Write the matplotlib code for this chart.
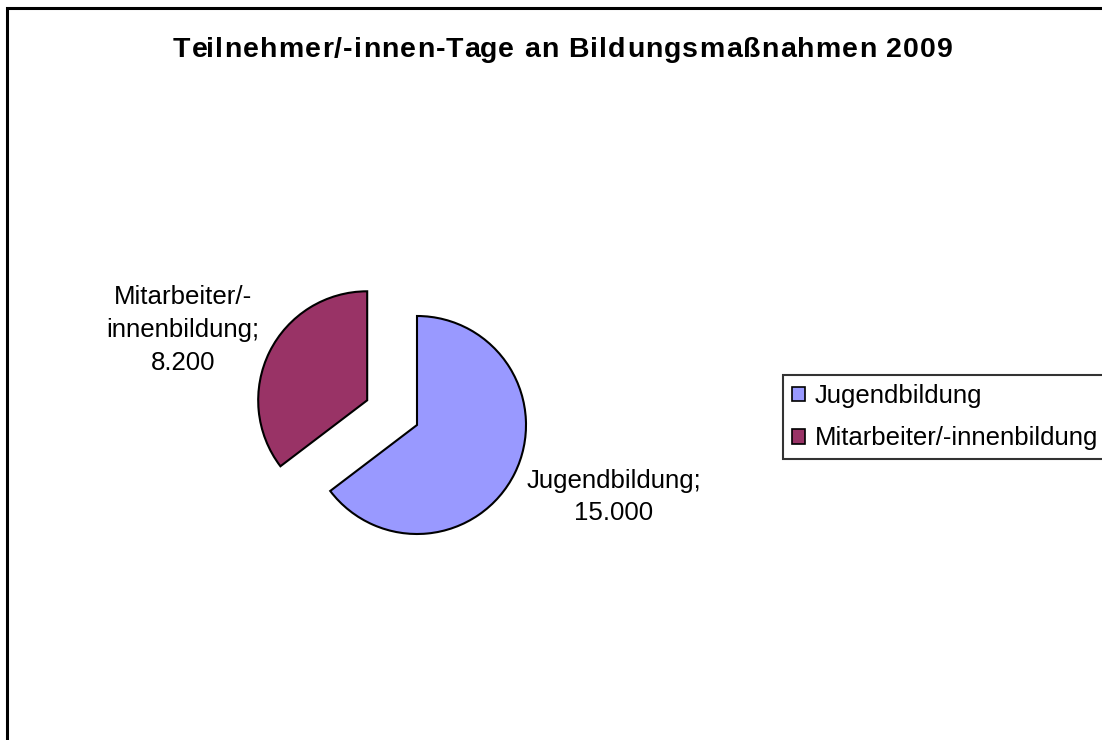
import matplotlib
matplotlib.use('Agg')
import matplotlib.pyplot as plt
from matplotlib.patches import Rectangle
from matplotlib.font_manager import FontProperties
from matplotlib.textpath import text_to_path

plt.rcParams['font.family'] = ['Liberation Sans', 'DejaVu Sans']

# Data
categories = ['Jugendbildung', 'Mitarbeiter/-innenbildung']
values = [15000, 8200]
label_texts = ['Jugendbildung;\n15.000', 'Mitarbeiter/-\ninnenbildung;\n8.200']
colors = ['#9999FF', '#993366']
explode = [0, 0.51]  # fraction of radius

TITLE = 'Teilnehmer/-innen-Tage an Bildungsmaßnahmen 2009'

W, H = 1102, 740
R = 109

fig = plt.figure(figsize=(W / 100, H / 100), dpi=100)
ax = fig.add_axes([0, 0, 1, 1])

# matplotlib's explode is in data units, so scale by radius
wedges, _ = ax.pie(values, colors=colors, explode=[e * R for e in explode],
                   startangle=90, counterclock=False, center=(417, 315),
                   radius=R, wedgeprops=dict(edgecolor='black', linewidth=1.5),
                   frame=True)
ax.set_xlim(0, W)
ax.set_ylim(0, H)
ax.set_aspect('equal')
ax.axis('off')

# Data labels
ax.text(614, 243, label_texts[0], ha='center', va='center', fontsize=18.6,
        linespacing=1.45)
ax.text(183, 410, label_texts[1], ha='center', va='center', fontsize=18.6,
        linespacing=1.5)

# Title, slightly letter-spaced like the Excel original
fp = FontProperties(family='Liberation Sans', weight='bold', size=20.5)
PX = 100 / 72  # points -> pixels
xw = text_to_path.get_text_width_height_descent('x', fp, ismath=False)[0]


def prefix_w(s):
    w = text_to_path.get_text_width_height_descent(s + 'x', fp, ismath=False)[0]
    return (w - xw) * PX


base_w = prefix_w(TITLE)
target_w = 780
track = max(0, (target_w - base_w) / (len(TITLE) - 1))
x0 = 563 - (base_w + track * (len(TITLE) - 1)) / 2
for i, ch in enumerate(TITLE):
    xp = x0 + prefix_w(TITLE[:i]) + i * track
    fig.text(xp / W, 1 - 57 / H, ch, ha='left', va='baseline',
             fontproperties=fp)

# Legend
leg = fig.legend(wedges, categories, loc='upper left',
                 bbox_to_anchor=(783 / W, 1 - 375 / H),
                 prop=dict(size=18.5), frameon=True, fancybox=False,
                 shadow=False, handlelength=0.5, handleheight=0.5,
                 handletextpad=0.4, borderpad=0.35, labelspacing=0.72,
                 borderaxespad=0)
leg.get_frame().set_edgecolor('black')
leg.get_frame().set_linewidth(1.5)
for h in leg.legend_handles:
    h.set_linewidth(1.2)

# Outer chart border
fig.patches.append(Rectangle((7 / W, -0.1), 1.2, (H - 8) / H + 0.1,
                             transform=fig.transFigure, fill=False,
                             edgecolor='black', linewidth=2.2))

fig.savefig('out.png', dpi=100)
